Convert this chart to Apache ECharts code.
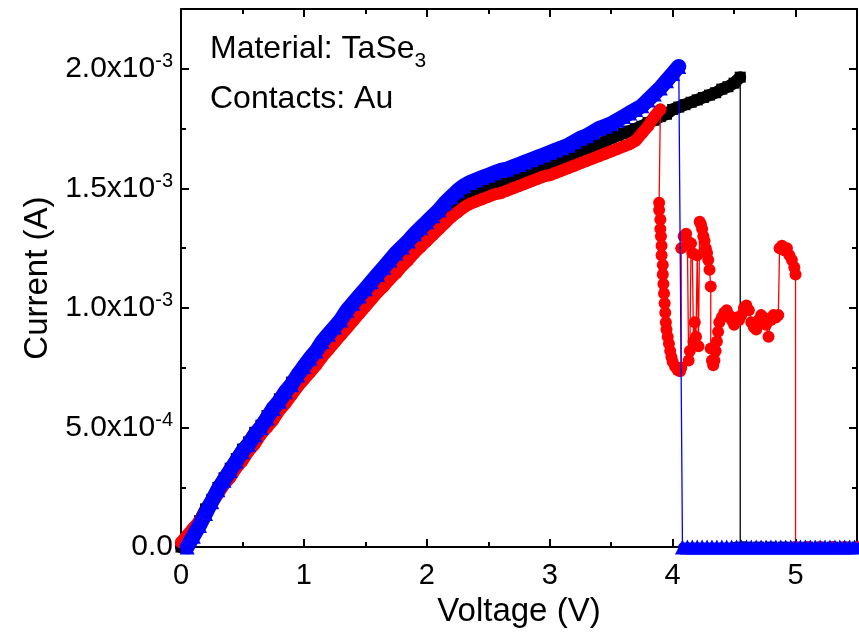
<!DOCTYPE html>
<html>
<head>
<meta charset="utf-8">
<script src="https://cdn.jsdelivr.net/npm/echarts@6/dist/echarts.min.js"></script>
<style>html,body{margin:0;padding:0;background:#fff;}#c{width:859px;height:633px;}</style>
</head>
<body>
<div id="c"></div>
<script>
// Voltage (V), Current (mA)
const blackSweep = [
[0.00,0.00],[0.05,0.03],[0.10,0.07],[0.15,0.11],[0.20,0.16],[0.25,0.20],[0.30,0.25],[0.35,0.29],[0.40,0.33],[0.45,0.37],
[0.50,0.41],[0.55,0.44],[0.60,0.48],[0.65,0.51],[0.70,0.55],[0.75,0.58],[0.80,0.62],[0.85,0.65],[0.90,0.69],[0.95,0.72],
[1.00,0.755],[1.05,0.785],[1.10,0.815],[1.15,0.85],[1.20,0.88],[1.25,0.91],[1.30,0.94],[1.35,0.97],[1.40,1.00],[1.45,1.03],
[1.50,1.06],[1.55,1.09],[1.60,1.12],[1.65,1.15],[1.70,1.175],[1.75,1.20],[1.80,1.23],[1.85,1.255],[1.90,1.28],[1.95,1.305],
[2.00,1.33],[2.05,1.355],[2.10,1.38],[2.15,1.405],[2.20,1.43],[2.25,1.45],[2.30,1.47],[2.35,1.485],[2.40,1.495],[2.45,1.505],
[2.50,1.515],[2.55,1.525],[2.60,1.53],[2.65,1.54],[2.70,1.55],[2.75,1.56],[2.80,1.57],[2.85,1.575],[2.90,1.585],[2.95,1.595],
[3.00,1.60],[3.05,1.61],[3.10,1.62],[3.15,1.63],[3.20,1.64],[3.25,1.65],[3.30,1.665],[3.35,1.675],[3.40,1.685],[3.45,1.695],
[3.50,1.71],[3.55,1.72],[3.60,1.73],[3.65,1.74],[3.70,1.75],[3.75,1.76],[3.80,1.775],[3.85,1.785],[3.90,1.80],[3.95,1.81],
[4.00,1.83],[4.05,1.84],[4.10,1.85],[4.15,1.86],[4.20,1.87],[4.25,1.88],[4.30,1.89],[4.35,1.90],[4.40,1.915],[4.45,1.925],
[4.50,1.94],[4.55,1.965]
];
const blackZero = [
[4.55,0],[4.60,0],[4.70,0],[4.80,0],[4.90,0],[5.00,0],[5.10,0],[5.20,0],[5.30,0],[5.40,0],[5.50,0]
];
const redSweep = [
[0.00,0.02],[0.05,0.05],[0.10,0.08],[0.15,0.11],[0.20,0.15],[0.25,0.18],[0.30,0.22],[0.35,0.26],[0.40,0.29],[0.45,0.33],
[0.50,0.36],[0.55,0.40],[0.60,0.43],[0.65,0.47],[0.70,0.50],[0.75,0.53],[0.80,0.57],[0.85,0.60],[0.90,0.635],[0.95,0.67],
[1.00,0.70],[1.05,0.73],[1.10,0.76],[1.15,0.795],[1.20,0.825],[1.25,0.855],[1.30,0.885],[1.35,0.915],[1.40,0.945],[1.45,0.975],
[1.50,1.005],[1.55,1.035],[1.60,1.065],[1.65,1.09],[1.70,1.12],[1.75,1.145],[1.80,1.175],[1.85,1.20],[1.90,1.23],[1.95,1.255],
[2.00,1.28],[2.05,1.305],[2.10,1.33],[2.15,1.355],[2.20,1.38],[2.25,1.40],[2.30,1.42],[2.35,1.435],[2.40,1.445],[2.45,1.455],
[2.50,1.465],[2.55,1.475],[2.60,1.48],[2.65,1.49],[2.70,1.50],[2.75,1.51],[2.80,1.52],[2.85,1.53],[2.90,1.54],[2.95,1.55],
[3.00,1.555],[3.05,1.565],[3.10,1.575],[3.15,1.585],[3.20,1.595],[3.25,1.605],[3.30,1.615],[3.35,1.625],[3.40,1.635],[3.45,1.645],
[3.50,1.655],[3.55,1.665],[3.60,1.675],[3.65,1.685],[3.70,1.70],[3.75,1.73],[3.80,1.76],[3.85,1.80],[3.90,1.83]
];
const redTail = [
[3.89,1.44],[3.89,1.41],[3.90,1.37],[3.90,1.33],[3.905,1.30],[3.91,1.26],[3.91,1.22],[3.92,1.18],[3.92,1.14],[3.925,1.10],
[3.93,1.06],[3.935,1.02],[3.94,0.98],[3.945,0.94],[3.95,0.91],[3.96,0.88],[3.97,0.85],[3.98,0.82],[3.99,0.795],[4.00,0.775],
[4.02,0.755],[4.04,0.74],[4.06,0.735],[4.07,0.75],
[4.07,1.25],[4.09,1.30],[4.11,1.31],[4.12,1.28],[4.13,0.78],[4.14,0.82],[4.15,1.27],[4.16,1.23],[4.17,0.86],[4.18,0.94],
[4.19,0.88],[4.20,1.22],[4.21,0.84],[4.22,1.36],[4.23,1.35],[4.24,1.33],[4.25,1.30],[4.26,1.28],[4.27,1.25],[4.28,1.23],
[4.29,1.20],[4.30,1.16],[4.31,1.09],[4.31,0.83],[4.32,0.78],[4.33,0.76],[4.34,0.78],[4.35,0.82],[4.36,0.86],[4.37,0.90],
[4.38,0.94],[4.40,0.96],[4.42,0.98],[4.44,0.99],[4.46,0.97],[4.48,0.95],[4.50,0.93],[4.52,0.96],[4.54,0.95],[4.56,0.97],
[4.58,1.00],[4.60,1.01],[4.62,0.99],[4.64,0.94],[4.66,0.92],[4.68,0.91],[4.70,0.95],[4.72,0.97],[4.74,0.96],[4.76,0.93],
[4.78,0.88],[4.80,0.95],[4.82,0.97],[4.84,0.96],[4.86,0.97],[4.87,1.25],[4.89,1.26],[4.91,1.24],[4.93,1.25],[4.95,1.22],
[4.97,1.20],[4.99,1.17],[5.00,1.14]
];
const redZero = [
[5.00,0],[5.10,0],[5.20,0],[5.30,0],[5.40,0],[5.50,0]
];
const blueSweep = [
[0.05,0.00],[0.10,0.045],[0.15,0.09],[0.20,0.14],[0.25,0.19],[0.30,0.24],[0.35,0.28],[0.40,0.32],[0.45,0.36],[0.50,0.40],
[0.55,0.43],[0.60,0.47],[0.65,0.50],[0.70,0.54],[0.75,0.58],[0.80,0.61],[0.85,0.65],[0.90,0.68],[0.95,0.72],[1.00,0.755],
[1.05,0.79],[1.10,0.82],[1.15,0.86],[1.20,0.89],[1.25,0.92],[1.30,0.95],[1.35,0.99],[1.40,1.02],[1.45,1.05],[1.50,1.08],
[1.55,1.11],[1.60,1.14],[1.65,1.17],[1.70,1.20],[1.75,1.23],[1.80,1.255],[1.85,1.28],[1.90,1.31],[1.95,1.335],[2.00,1.36],
[2.05,1.385],[2.10,1.41],[2.15,1.44],[2.20,1.465],[2.25,1.49],[2.30,1.51],[2.35,1.525],[2.40,1.535],[2.45,1.545],[2.50,1.555],
[2.55,1.565],[2.60,1.575],[2.65,1.58],[2.70,1.59],[2.75,1.60],[2.80,1.61],[2.85,1.62],[2.90,1.63],[2.95,1.64],[3.00,1.65],
[3.05,1.66],[3.10,1.67],[3.15,1.68],[3.20,1.695],[3.25,1.71],[3.30,1.72],[3.35,1.735],[3.40,1.75],[3.45,1.76],[3.50,1.77],
[3.55,1.785],[3.60,1.80],[3.65,1.815],[3.70,1.83],[3.75,1.845],[3.80,1.87],[3.85,1.895],[3.90,1.92],[3.95,1.95],[4.00,1.98],
[4.05,2.01]
];
const blueZero = [
[4.08,0],[4.12,0],[4.16,0],[4.20,0],[4.24,0],[4.28,0],[4.32,0],[4.36,0],[4.40,0],[4.44,0],[4.48,0],[4.52,0],
[4.56,0],[4.60,0],[4.64,0],[4.68,0],[4.72,0],[4.76,0],[4.80,0],[4.84,0],[4.88,0],[4.92,0],[4.96,0],[5.00,0],[5.04,0],
[5.08,0],[5.12,0],[5.16,0],[5.20,0],[5.24,0],[5.28,0],[5.32,0],[5.36,0],[5.40,0],[5.44,0],[5.48,0],[5.52,0]
];
const yTickLabels = {0:'0.0', 0.0005:'5.0x10|-4', 0.001:'1.0x10|-3', 0.0015:'1.5x10|-3', 0.002:'2.0x10|-3'};
const mA = 1e-3;

const FONT = 'Liberation Sans, Arial, sans-serif';
const toA = d => d.map(p => [p[0], p[1] * mA]);

const chart = echarts.init(document.getElementById('c'), null, {renderer: 'canvas'});
const axisLine = {show: true, onZero: false, lineStyle: {color: '#000', width: 2}};
const tick = {show: true, inside: true, length: 8, lineStyle: {color: '#000', width: 2}};
const minor = {show: true, splitNumber: 2, length: 5, lineStyle: {color: '#000', width: 2}};

function yFmt(v) {
  let key = Math.round(v * 1e5) / 1e5;
  let s = yTickLabels[key];
  if (s === undefined) return '';
  if (s.indexOf('|') < 0) return '{a|' + s + '}';
  const parts = s.split('|');
  return '{a|' + parts[0] + '}{s|' + parts[1] + '}';
}

function band(data, color, width, z) {
  return {type: 'line', data: toA(data), showSymbol: false, symbol: 'none', silent: true,
          lineStyle: {color: color, width: width, join: 'round', cap: 'round'}, z: z};
}
function marks(data, color, symbol, size, z) {
  return {type: 'line', data: toA(data), symbol: symbol, symbolSize: size, showAllSymbol: true,
          itemStyle: {color: color}, lineStyle: {color: color, width: 1.3}, z: z};
}

chart.setOption({
  animation: false,
  backgroundColor: '#fff',
  title: [
    {text: '{a|Material: TaSe}{s|3}', left: 205, top: 24,
     textStyle: {rich: {a: {fontFamily: FONT, fontSize: 32, fontWeight: 'normal', color: '#000', lineHeight: 40},
                        s: {fontFamily: FONT, fontSize: 21, fontWeight: 'normal', color: '#000', lineHeight: 40, padding: [24, 0, 0, 0]}}}},
    {text: 'Contacts: Au', left: 205, top: 78,
     textStyle: {fontFamily: FONT, fontSize: 32, fontWeight: 'normal', color: '#000'}}
  ],
  grid: {left: 181, right: 2, top: 9, bottom: 79, containLabel: false},
  xAxis: [
    {type: 'value', min: 0, max: 5.5, interval: 1, position: 'bottom',
     name: 'Voltage (V)', nameLocation: 'middle', nameGap: 42,
     nameTextStyle: {fontFamily: FONT, fontSize: 33, color: '#000'},
     axisLine: axisLine, axisTick: tick, minorTick: minor, splitLine: {show: false},
     axisLabel: {fontFamily: FONT, fontSize: 29, color: '#000', margin: 14, showMaxLabel: false}},
    {type: 'value', min: 0, max: 5.5, interval: 1, position: 'top',
     axisLine: axisLine, axisTick: tick, minorTick: minor, splitLine: {show: false},
     axisLabel: {show: false}}
  ],
  yAxis: [
    {type: 'value', min: 0, max: 2.25e-3, interval: 0.5e-3, position: 'left',
     name: 'Current (A)', nameLocation: 'middle', nameGap: 125,
     nameTextStyle: {fontFamily: FONT, fontSize: 33, color: '#000'},
     axisLine: axisLine, axisTick: tick, minorTick: minor, splitLine: {show: false},
     axisLabel: {margin: 8, showMaxLabel: false, formatter: yFmt,
       rich: {a: {fontFamily: FONT, fontSize: 30, color: '#000', lineHeight: 34},
              s: {fontFamily: FONT, fontSize: 20, color: '#000', lineHeight: 34, padding: [0, 0, 14, 0]}}}},
    {type: 'value', min: 0, max: 2.25e-3, interval: 0.5e-3, position: 'right',
     axisLine: axisLine, axisTick: tick, minorTick: minor, splitLine: {show: false},
     axisLabel: {show: false}}
  ],
  series: [
    band(blackSweep, '#000', 12, 2),
    marks(blackSweep.concat(blackZero), '#000', 'rect', 11, 2),
    band(redSweep, '#ff0000', 12, 3),
    marks(redSweep.concat(redTail, redZero), '#ff0000', 'circle', 12, 3),
    band(blueSweep, '#0000ff', 15, 4),
    band(blueZero, '#0000ff', 9, 4),
    marks(blueSweep.concat(blueZero), '#0000ff', 'triangle', 15, 4)
  ]
});
</script>
</body>
</html>
